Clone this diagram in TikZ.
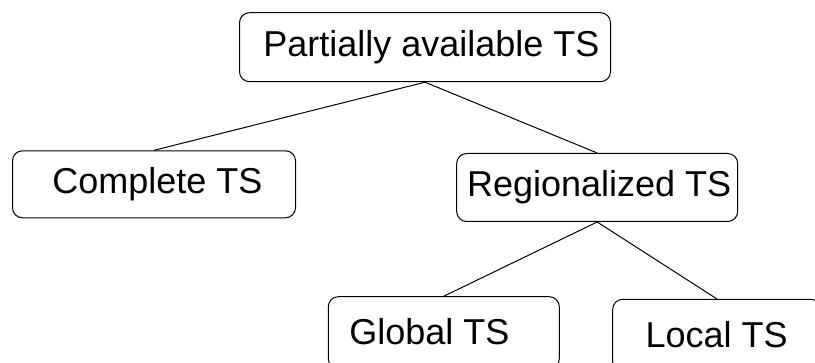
\documentclass[tikz,border=0pt]{standalone}
\usepackage{fontspec}
\setmainfont{Liberation Sans}
\begin{document}
\begin{tikzpicture}[x=1pt,y=-1pt,
  tsbox/.style={draw=black, line width=1pt, rounded corners=10pt, inner sep=0pt,
    font=\fontsize{36}{40}\selectfont, text=black, anchor=center},
  link/.style={draw=black, line width=1pt}]
\useasboundingbox (0,0) rectangle (815,363);
\clip (0,0) rectangle (815,363);
\node[tsbox, minimum width=371pt, minimum height=69pt] (top) at (425,47.2) {\hspace*{13pt}Partially available TS};
\node[tsbox, minimum width=283pt, minimum height=67pt] (complete) at (154,184.3) {\hspace*{7pt}Complete TS};
\node[tsbox, minimum width=281pt, minimum height=68pt] (regional) at (597.2,187.5) {\hspace*{4pt}Regionalized TS};
\node[tsbox, minimum width=231pt, minimum height=72pt] (global) at (443.8,332.7) {\raisebox{2pt}{Global TS}\hspace*{29pt}};
\node[tsbox, minimum width=208pt, minimum height=72pt] (local) at (716.7,335.3) {\raisebox{2pt}{Local TS}};
\draw[link] (top.south) -- (complete.north);
\draw[link] (top.south) -- (regional.north);
\draw[link] (regional.south) -- (global.north);
\draw[link] (regional.south) -- (local.north);
\end{tikzpicture}
\end{document}
